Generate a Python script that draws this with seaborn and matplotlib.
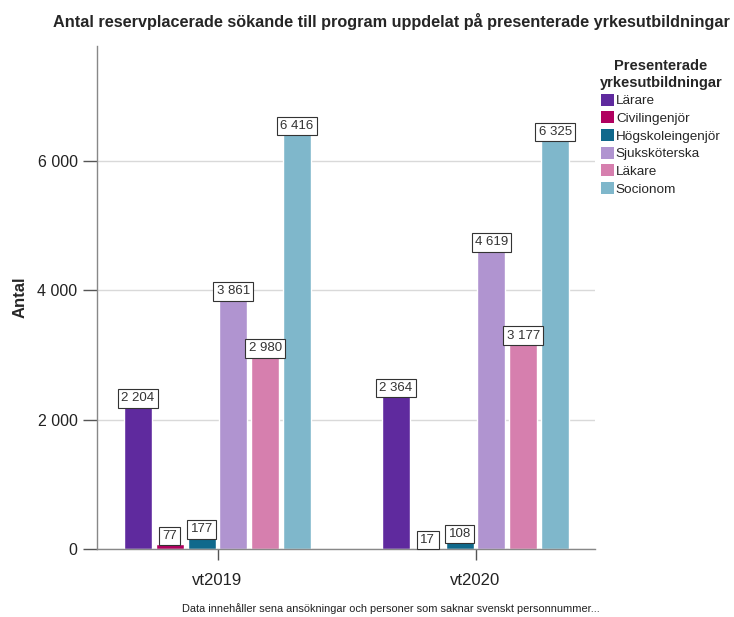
import numpy as np
import pandas as pd
import matplotlib
matplotlib.use("Agg")
import matplotlib.pyplot as plt
import seaborn as sns
from matplotlib.patches import Patch

years = ["vt2019", "vt2020"]
yrken = ["Lärare", "Civilingenjör", "Högskoleingenjör", "Sjuksköterska", "Läkare", "Socionom"]
antal_2019 = [2204, 77, 177, 3861, 2980, 6416]
antal_2020 = [2364, 17, 108, 4619, 3177, 6325]
farger = ["#5f2a9e", "#b0005f", "#10698c", "#b094d0", "#d67fae", "#7fb7cb"]

df = pd.DataFrame({
    "År": [years[0]] * len(yrken) + [years[1]] * len(yrken),
    "Yrke": yrken + yrken,
    "Antal": antal_2019 + antal_2020,
})

sns.set_theme(style="white")
plt.rcParams["font.family"] = ["Liberation Sans", "DejaVu Sans"]

fig = plt.figure(figsize=(7.34, 6.17), dpi=100)
ax = fig.add_axes([97 / 734, 1 - 549 / 617, (595 - 97) / 734, (549 - 46) / 617])

sns.barplot(data=df, x="År", y="Antal", hue="Yrke", hue_order=yrken,
            palette=farger, width=0.74, gap=0.12, saturation=1,
            legend=False, ax=ax)

ax.set_xlim(-0.467, 1.463)
ax.set_ylim(0, 7780)
ax.set_yticks([0, 2000, 4000, 6000])
ax.set_yticklabels([f"{v:,}".replace(",", " ") for v in [0, 2000, 4000, 6000]])
ax.yaxis.grid(True, color="#d9d9d9", lw=1)
ax.set_axisbelow(True)
for s in ["top", "right"]:
    ax.spines[s].set_visible(False)
for s in ["left", "bottom"]:
    ax.spines[s].set_color("#888888")
    ax.spines[s].set_linewidth(1)
ax.tick_params(axis="y", left=True, length=10, width=1, color="#555555",
               labelsize=11.5, pad=4, labelcolor="#222222")
ax.tick_params(axis="x", bottom=True, length=8, width=1, color="#555555",
               labelsize=12, pad=9, labelcolor="#222222")
ax.set_xlabel("")
ax.set_ylabel("Antal", fontsize=12, fontweight="bold", labelpad=7)

for cont in ax.containers:
    ax.bar_label(cont, labels=[f"{int(v):,}".replace(",", " ") for v in cont.datavalues],
                 padding=1.5, fontsize=9.5, color="#333333",
                 bbox=dict(boxstyle="square,pad=0.25", fc="white", ec="#333333", lw=0.8))

fig.text(391 / 734, 1 - 21 / 617,
         "Antal reservplacerade sökande till program uppdelat på presenterade yrkesutbildningar",
         ha="center", va="center", fontsize=11.7, fontweight="bold")

handles = [Patch(facecolor=c, edgecolor="none") for c in farger]
leg = fig.legend(handles, yrken, loc="upper left", bbox_to_anchor=(590 / 734, 1 - 50 / 617),
                 frameon=False, fontsize=9.7, handlelength=1.0, handleheight=1.0,
                 handletextpad=0.12, labelspacing=0.3, borderpad=0.2,
                 title="Presenterade\nyrkesutbildningar",
                 title_fontproperties={"weight": "bold", "size": 10.5})
leg.get_title().set_multialignment("center")

fig.text(391 / 734, 1 - 609 / 617,
         "Data innehåller sena ansökningar och personer som saknar svenskt personnummer...",
         ha="center", va="center", fontsize=7.9, color="#222222")

fig.savefig("out.png", dpi=100)
